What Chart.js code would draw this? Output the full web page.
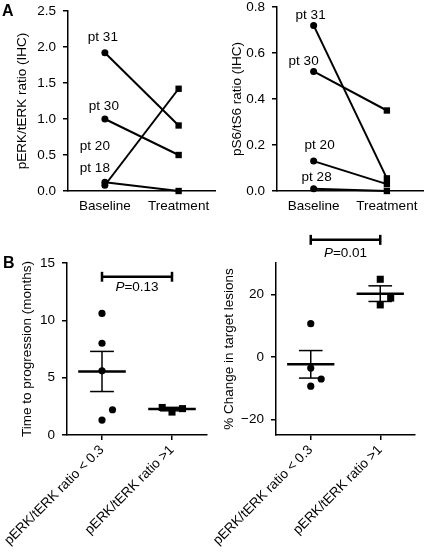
<!DOCTYPE html>
<html>
<head>
<meta charset="utf-8">
<script src="https://cdn.jsdelivr.net/npm/chart.js@4.4.1/dist/chart.umd.min.js"></script>
<style>
  body { margin: 0; background: #fff; }
  #fig { position: relative; width: 428px; height: 552px; overflow: hidden; font-family: 'Liberation Sans', Arial, sans-serif; }
  #fig canvas { position: absolute; }
  .panel { position: absolute; font-weight: bold; font-size: 16px; line-height: 16px; color: #000; }
</style>
</head>
<body>
<div id="fig">
  <canvas id="perk" width="220" height="225" style="left:0;top:0"></canvas>
  <canvas id="ps6" width="214" height="225" style="left:214px;top:0"></canvas>
  <canvas id="ttp" width="215" height="322" style="left:0;top:230px"></canvas>
  <canvas id="chg" width="214" height="322" style="left:214px;top:230px"></canvas>
  <div class="panel" style="left:2px;top:3px">A</div>
  <div class="panel" style="left:3px;top:255px">B</div>
</div>
<script>
// panel A: IHC ratios per patient
const timepoints = ['Baseline', 'Treatment'];
const perkPatients = ['pt 31', 'pt 30', 'pt 20', 'pt 18'];
const perkBaseline = [1.92, 1.00, 0.12, 0.08];
const perkTreatment = [0.91, 0.50, 0.00, 1.42];
const perkTicks = [0, 0.5, 1, 1.5, 2, 2.5];

const ps6Patients = ['pt 31', 'pt 30', 'pt 20', 'pt 28'];
const ps6Baseline = [0.72, 0.52, 0.13, 0.01];
const ps6Treatment = [0.055, 0.35, 0.03, 0.00];
const ps6Ticks = [0, 0.2, 0.4, 0.6, 0.8];

// panel B: outcome by pERK/tERK group
const groups = ['pERK/tERK ratio < 0.3', 'pERK/tERK ratio >1'];
const ttpLow = [10.6, 8.0, 5.6, 2.2, 1.3];
const ttpHigh = [2.4, 2.0, 2.3];
const ttpMean = [5.54, 2.26];
const ttpSem = [1.75, 0.15];
const ttpTicks = [0, 5, 10, 15];
const ttpP = '0.13';

const chgLow = [10.6, -3.6, -7.1, -9.4];
const chgHigh = [24.8, 18.8, 16.6];
const chgMean = [-2.4, 20.2];
const chgSem = [4.4, 2.5];
const chgTicks = [-20, 0, 20];
const chgP = '0.01';

const black = '#000';
const fontFamily = "'Liberation Sans', Arial, sans-serif";
Chart.defaults.font.family = fontFamily;
Chart.defaults.font.size = 13.5;
Chart.defaults.color = black;

const axisBorder = { display: true, color: black, width: 1.5 };

// text drawn at data coordinates (patient labels, P values)
const textMarks = {
  id: 'textMarks',
  afterDatasetsDraw(chart, args, opts) {
    const ctx = chart.ctx;
    const xs = chart.scales.x, ys = chart.scales.y;
    ctx.save();
    ctx.fillStyle = black;
    ctx.textBaseline = 'middle';
    ctx.textAlign = 'left';
    (opts.items || []).forEach(it => {
      const fonts = it.parts.map(p => (p[1] ? 'italic ' : '') + '13.5px ' + fontFamily);
      let total = 0;
      const widths = it.parts.map((p, i) => { ctx.font = fonts[i]; const w = ctx.measureText(p[0]).width; total += w; return w; });
      let x = xs.getPixelForValue(it.x) + (it.dx || 0) - total / 2;
      const y = ys.getPixelForValue(it.y);
      it.parts.forEach((p, i) => { ctx.font = fonts[i]; ctx.fillText(p[0], x, y); x += widths[i]; });
    });
    ctx.restore();
  }
};

function yAxis(ticks, fmt, title, titlePad, width, tickPad) {
  return {
    min: ticks[0] < 0 ? -25 : ticks[0],
    max: ticks[0] < 0 ? 30 : ticks[ticks.length - 1],
    afterBuildTicks: s => { s.ticks = ticks.map(v => ({ value: v })); },
    ticks: { callback: fmt, padding: tickPad, color: black },
    grid: { drawOnChartArea: false, tickLength: 5, color: black, lineWidth: 1.5 },
    border: axisBorder,
    title: { display: true, text: title, color: black, padding: { top: titlePad, bottom: 0 } },
    afterFit: s => { s.width = width; s.paddingTop = 0; s.paddingBottom = 0; }
  };
}

function timeAxis() {
  return {
    type: 'category', offset: true,
    ticks: { padding: 7, color: black },
    grid: { drawOnChartArea: false, drawTicks: false, color: black },
    border: axisBorder,
    afterFit: s => { s.height = 34; s.paddingLeft = 0; s.paddingRight = 0; }
  };
}

function groupAxis() {
  return {
    type: 'linear', min: 0.5, max: 2.5,
    afterBuildTicks: s => { s.ticks = groups.map((g, i) => ({ value: i + 1 })); },
    ticks: { callback: v => groups[v - 1], minRotation: 45, maxRotation: 45, autoSkip: false, padding: 2, color: black },
    grid: { drawOnChartArea: false, tickLength: 5, color: black, lineWidth: 1.5 },
    border: axisBorder,
    afterFit: s => { s.height = 117; s.paddingLeft = 0; s.paddingRight = 0; }
  };
}

function pairedChart(id, patients, base, treat, ticks, title, titlePad, yWidth, pad, labelAt, labelDx) {
  new Chart(document.getElementById(id), {
    type: 'line',
    data: {
      labels: timepoints,
      datasets: patients.map((p, i) => ({
        label: p,
        data: [base[i], treat[i]],
        borderColor: black, backgroundColor: black, borderWidth: 2,
        pointStyle: ['circle', 'rect'], pointRadius: [3.5, 4.5], pointBorderWidth: 0,
        clip: false
      }))
    },
    options: {
      responsive: false, animation: false,
      layout: { padding: pad },
      plugins: {
        legend: { display: false }, tooltip: { enabled: false },
        textMarks: { items: patients.map((p, i) => ({ x: 0, y: labelAt[i], dx: labelDx[i], parts: [[p, false]] })) }
      },
      scales: {
        x: timeAxis(),
        y: yAxis(ticks, v => v.toFixed(1), title, titlePad, yWidth, 7)
      }
    },
    plugins: [textMarks]
  });
}

function seg(x1, y1, x2, y2, w) {
  return { data: [{ x: x1, y: y1 }, { x: x2, y: y2 }], showLine: true, borderColor: black, borderWidth: w, pointRadius: 0, clip: false };
}

function groupChart(id, low, lowJit, high, highJit, mean, sem, ticks, fmt, title, titlePad, yWidth, pad, p, pAt, pCap, pTextAt) {
  const ds = [];
  mean.forEach((m, i) => {
    const c = i + 1;
    ds.push(seg(c - 0.34, m, c + 0.34, m, 2.5));
    ds.push(seg(c, m - sem[i], c, m + sem[i], 1.5));
    ds.push(seg(c - 0.17, m + sem[i], c + 0.17, m + sem[i], 1.5));
    ds.push(seg(c - 0.17, m - sem[i], c + 0.17, m - sem[i], 1.5));
  });
  ds.push({ data: low.map((v, i) => ({ x: 1 + lowJit[i], y: v })), pointStyle: 'circle', pointRadius: 3.6, backgroundColor: black, borderWidth: 0, clip: false });
  ds.push({ data: high.map((v, i) => ({ x: 2 + highJit[i], y: v })), pointStyle: 'rect', pointRadius: 5, backgroundColor: black, borderWidth: 0, clip: false });
  // significance bracket above the plot
  ds.push(seg(1, pAt, 2, pAt, 2.5));
  ds.push(seg(1, pAt - pCap, 1, pAt + pCap, 2.5));
  ds.push(seg(2, pAt - pCap, 2, pAt + pCap, 2.5));

  new Chart(document.getElementById(id), {
    type: 'scatter',
    data: { datasets: ds },
    options: {
      responsive: false, animation: false,
      layout: { padding: pad },
      plugins: {
        legend: { display: false }, tooltip: { enabled: false },
        textMarks: { items: [{ x: 1.5, y: pTextAt, parts: [['P', true], ['=' + p, false]] }] }
      },
      scales: {
        x: groupAxis(),
        y: yAxis(ticks, fmt, title, titlePad, yWidth, 7)
      }
    },
    plugins: [textMarks]
  });
}

pairedChart('perk', perkPatients, perkBaseline, perkTreatment, perkTicks, 'pERK/tERK ratio (IHC)', 14, 68,
  { top: 11, right: 2, left: 0, bottom: 0 }, [2.14, 1.17, 0.615, 0.315], [-2, -1, -10, -10]);
pairedChart('ps6', ps6Patients, ps6Baseline, ps6Treatment, ps6Ticks, 'pS6/tS6 ratio (IHC)', 15, 63,
  { top: 7, right: 0, left: 0, bottom: 0 }, [0.765, 0.562, 0.197, 0.058], [-3, -10, 6, 3]);

groupChart('ttp', ttpLow, [0, 0, 0, 0.15, 0], ttpHigh, [-0.14, 0, 0.15], ttpMean, ttpSem, ttpTicks,
  v => String(v), 'Time to progression (months)', 19, 67, { top: 33, right: 8, left: 0, bottom: 0 },
  ttpP, 13.8, 0.43, 12.9);
groupChart('chg', chgLow, [0, 0, 0.15, 0], chgHigh, [0, 0.15, 0], chgMean, chgSem, chgTicks,
  v => (v < 0 ? '\u2212' + (-v) : String(v)), '% Change in target lesions', 7, 62, { top: 33, right: 13, left: 0, bottom: 0 },
  chgP, 37.4, 1.6, 33.2);
</script>
</body>
</html>
